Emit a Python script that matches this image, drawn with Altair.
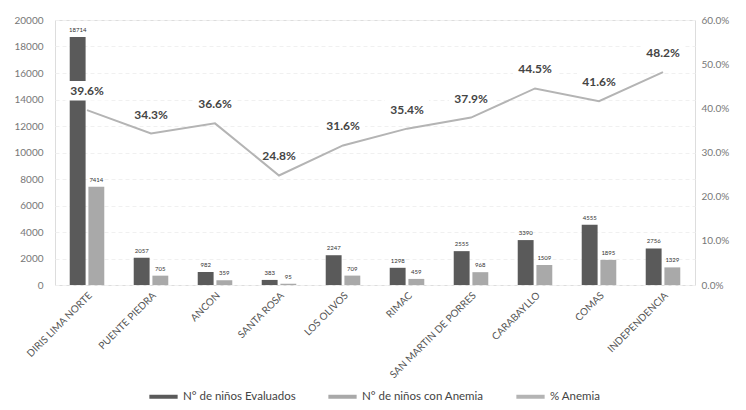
import altair as alt
import pandas as pd

categorias = ["DIRIS LIMA NORTE", "PUENTE PIEDRA", "ANCON", "SANTA ROSA", "LOS OLIVOS",
              "RIMAC", "SAN MARTIN DE PORRES", "CARABAYLLO", "COMAS", "INDEPENDENCIA"]
evaluados = [18714, 2057, 982, 383, 2247, 1298, 2555, 3390, 4555, 2756]
con_anemia = [7414, 705, 359, 95, 709, 459, 968, 1509, 1895, 1329]
pct_anemia = [0.396, 0.343, 0.366, 0.248, 0.316, 0.354, 0.379, 0.445, 0.416, 0.482]
ticks_izq = [0, 2000, 4000, 6000, 8000, 10000, 12000, 14000, 16000, 18000, 20000]
ticks_der = [0, 0.1, 0.2, 0.3, 0.4, 0.5, 0.6]

s1 = "N° de niños Evaluados"
s2 = "N° de niños con Anemia"
s3 = "% Anemia"

bars_df = pd.DataFrame(
    [{"cat": c, "serie": s1, "valor": v} for c, v in zip(categorias, evaluados)]
    + [{"cat": c, "serie": s2, "valor": v} for c, v in zip(categorias, con_anemia)]
)
line_df = pd.DataFrame({"cat": categorias, "pct": pct_anemia, "serie": s3})

FONT = "Lato"
color_scale = alt.Scale(domain=[s1, s2, s3], range=["#5a5a5a", "#a9a9a9", "#b4b4b4"])
x_enc = alt.X("cat:N", sort=categorias, title=None,
              scale=alt.Scale(paddingInner=0.46, paddingOuter=0.23),
              axis=alt.Axis(labelAngle=315, labelFontSize=10, labelColor="#555555",
                            labelFont=FONT, ticks=False,
                            domain=False, labelPadding=5, labelLimit=200))

left_axis = alt.Axis(values=ticks_izq, format="d",
                     labelOverlap=False, labelSeparation=0, labelColor="#777777",
                     labelFontSize=10, labelFont=FONT, ticks=False, domain=False,
                     grid=True, gridColor="#f0f0f0", gridDash=[4, 3],
                     labelPadding=12)
left_scale = alt.Scale(domain=[0, 20000], nice=False)

base_bars = alt.Chart(bars_df)
bars = base_bars.mark_bar().encode(
    x=x_enc,
    xOffset=alt.XOffset("serie:N", sort=[s1, s2], scale=alt.Scale(paddingInner=0.15)),
    y=alt.Y("valor:Q", title=None, scale=left_scale, axis=left_axis),
    color=alt.Color("serie:N", scale=color_scale, sort=[s1, s2, s3],
                    legend=alt.Legend(title=None, orient="none", direction="horizontal",
                                      legendX=92, legendY=360,
                                      symbolType="stroke", symbolStrokeWidth=4,
                                      symbolSize=800, labelFontSize=11.5, labelFont=FONT,
                                      labelColor="#444444", columnPadding=24,
                                      labelOffset=3, labelLimit=300, padding=0)),
)
bar_labels = base_bars.mark_text(fontSize=6, dy=-7, color="#333333", font=FONT).encode(
    x=x_enc,
    xOffset=alt.XOffset("serie:N", sort=[s1, s2]),
    y=alt.Y("valor:Q", title=None, scale=left_scale, axis=left_axis),
    text=alt.Text("valor:Q", format="d"),
)
left = alt.layer(bars, bar_labels)

right_axis = alt.Axis(values=ticks_der, format=".1%",
                      labelColor="#777777", labelFontSize=10, labelFont=FONT,
                      ticks=False, domain=False, grid=False, labelPadding=6,
                      labelOverlap=False)
right_scale = alt.Scale(domain=[0, 0.6], nice=False)

base_line = alt.Chart(line_df)
line = base_line.mark_line(strokeWidth=2).encode(
    x=x_enc,
    y=alt.Y("pct:Q", title=None, scale=right_scale, axis=right_axis),
    color=alt.Color("serie:N", scale=color_scale, sort=[s1, s2, s3]),
)
label_bg = base_line.transform_calculate(
    y1="datum.pct + 0.022", y2="datum.pct + 0.066"
).mark_bar(color="white", size=44).encode(
    x=x_enc,
    y=alt.Y("y1:Q", title=None, scale=right_scale, axis=right_axis),
    y2="y2:Q",
)
pct_labels = base_line.transform_calculate(ylab="datum.pct + 0.043").mark_text(
    fontSize=12, fontWeight="bold", color="#444444", font=FONT, baseline="middle"
).encode(
    x=x_enc,
    y=alt.Y("ylab:Q", title=None, scale=right_scale, axis=right_axis),
    text=alt.Text("pct:Q", format=".1%"),
)
right = alt.layer(label_bg, line, pct_labels)

chart = alt.layer(left, right).resolve_scale(y="independent").properties(
    width=640, height=265,
    padding={"top": 7, "left": 5, "right": 5, "bottom": 0},
).configure_view(stroke=None).configure_axis(labelOverlap=False).configure(background="white")

chart.save("out.html", embed_options={"renderer": "svg", "actions": False})
